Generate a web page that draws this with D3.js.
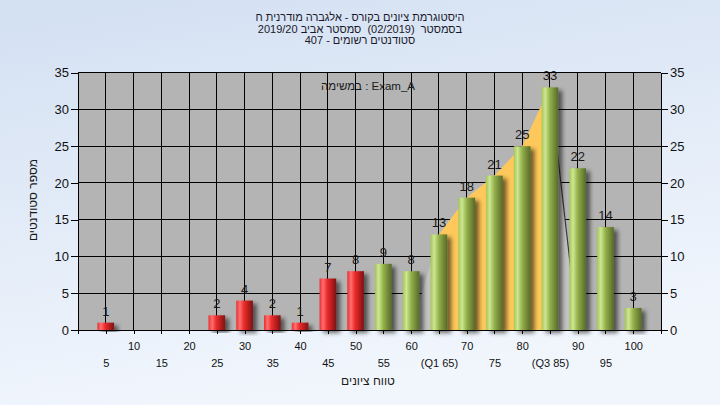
<!DOCTYPE html>
<html><head><meta charset="utf-8">
<script src="https://cdn.jsdelivr.net/npm/d3@7"></script>
<style>
body{margin:0;background:#fff;}
svg{display:block;}
text{font-family:"Liberation Sans","DejaVu Sans",Arial,sans-serif;}
</style>
</head><body>
<svg id="c" width="720" height="405"></svg>
<script>
// ---- data ----
const categories = [5,10,15,20,25,30,35,40,45,50,55,60,65,70,75,80,85,90,95,100];
const values     = [1,0,0,0,2,4,2,1,7,8,9,8,13,18,21,25,33,22,14,3];
const tickRow1   = [10,20,30,40,50,60,70,80,90,100];
const tickRow1Labels = ["10","20","30","40","50","60","70","80","90","100"];
const tickRow2   = [5,15,25,35,45,55,65,75,85,95];
const tickRow2Labels = ["5","15","25","35","45","55","(Q1 65)","75","(Q3 85)","95"];
const yTicks = [0,5,10,15,20,25,30,35];
const q1 = 65, q3 = 85, passMark = 55;
const titleLines = [
  "היסטוגרמת ציונים בקורס - אלגברה מודרנית ח",
  "בסמסטר  (02/2019)  סמסטר אביב 2019/20",
  "סטודנטים רשומים - 407"
];
const assignmentText = "במשימה : Exam_A";
const yTitle = "מספר סטודנטים";
const xTitle = "טווח ציונים";

// ---- layout ----
const svg = d3.select("#c");
const L = 78, R = 661, T = 72.7, B = 330;
const x = d3.scaleLinear().domain([0,105]).range([L,R]);
const y = d3.scaleLinear().domain([0,35]).range([B,T]);

const defs = svg.append("defs");
const bg = defs.append("linearGradient").attr("id","bg").attr("x1",0).attr("y1",0).attr("x2",0.3).attr("y2",1);
bg.append("stop").attr("offset","0%").attr("stop-color","#d3e0f2");
bg.append("stop").attr("offset","100%").attr("stop-color","#f1f6fd");
function barGrad(id, stops){
  const g = defs.append("linearGradient").attr("id",id).attr("x1",0).attr("y1",0).attr("x2",1).attr("y2",0);
  stops.forEach(s=>g.append("stop").attr("offset",s[0]).attr("stop-color",s[1]));
}
barGrad("red",[["0%","#e83030"],["22%","#ff7070"],["45%","#ee2c2c"],["100%","#7e1212"]]);
barGrad("green",[["0%","#a6c656"],["22%","#cde792"],["50%","#94b04a"],["100%","#566a2a"]]);
const f = defs.append("filter").attr("id","sh").attr("x","-30%").attr("y","-10%").attr("width","180%").attr("height","130%");
f.append("feDropShadow").attr("dx",4).attr("dy",3).attr("stdDeviation",2).attr("flood-color","#000").attr("flood-opacity",0.55);
defs.append("clipPath").attr("id","iqr").append("rect")
  .attr("x",x(q1)).attr("y",T).attr("width",x(q3)-x(q1)).attr("height",B-T);
defs.append("clipPath").attr("id","plot").append("rect")
  .attr("x",L).attr("y",T).attr("width",R-L).attr("height",B-T+8);

svg.append("rect").attr("width",720).attr("height",405).attr("fill","url(#bg)");
svg.append("rect").attr("x",L).attr("y",T).attr("width",R-L).attr("height",B-T).attr("fill","#b4b4b4");

// grid
const grid = svg.append("g").attr("stroke","#000").attr("stroke-width",1).attr("shape-rendering","crispEdges");
grid.selectAll(".v").data(categories).join("line")
  .attr("x1",d=>x(d)).attr("x2",d=>x(d)).attr("y1",T).attr("y2",B);
grid.selectAll(".h").data(yTicks.filter(d=>d>0)).join("line")
  .attr("x1",L).attr("x2",R).attr("y1",d=>y(d)).attr("y2",d=>y(d));

// area between quartiles
const areaIdx = categories.map((c,i)=>i).filter(i=>categories[i]>=q1 && categories[i]<=q3);
const areaPts = [[categories[areaIdx[0]-1],0]]
  .concat(areaIdx.map(i=>[categories[i],values[i]]))
  .concat([[categories[areaIdx[areaIdx.length-1]+1],0]]);
const areaGen = d3.area().x(d=>x(d[0])).y0(y(0)).y1(d=>y(d[1]));
svg.append("path").datum(areaPts).attr("d",areaGen).attr("fill","#c3c3c3");
svg.append("path").datum(areaPts).attr("d",areaGen).attr("fill","#fec85a").attr("clip-path","url(#iqr)");
svg.append("path").datum(areaPts.slice(-2)).attr("d",d3.line().x(d=>x(d[0])).y(d=>y(d[1])))
  .attr("fill","none").attr("stroke","#3a3a3a").attr("stroke-width",1.2);

// bars
const bw = x(3)-x(0);
const data = categories.map((c,i)=>({c, v:values[i]}));
svg.append("g").attr("clip-path","url(#plot)").selectAll("rect").data(data.filter(d=>d.v>0)).join("rect")
  .attr("x",d=>x(d.c)-bw/2).attr("width",bw)
  .attr("y",d=>y(d.v)).attr("height",d=>y(0)-y(d.v))
  .attr("fill",d=>d.c<passMark?"url(#red)":"url(#green)")
  .attr("filter","url(#sh)");

// value labels
svg.append("g").selectAll("text").data(data.filter(d=>d.v>0)).join("text")
  .attr("x",d=>x(d.c)).attr("y",d=>y(d.v)-7)
  .attr("text-anchor","middle").attr("font-size",13).attr("fill","#1a1a1a")
  .text(d=>d.v);

// axes
const yl = svg.append("g").attr("transform",`translate(${L},0)`)
  .call(d3.axisLeft(y).tickValues(yTicks).tickSize(7).tickPadding(2));
const yr = svg.append("g").attr("transform",`translate(${R},0)`)
  .call(d3.axisRight(y).tickValues(yTicks).tickSize(7).tickPadding(2));
const xa = svg.append("g").attr("transform",`translate(0,${B})`)
  .call(d3.axisBottom(x).tickValues(d3.range(0,106,5)).tickSize(4).tickFormat(""));
const x1 = svg.append("g").attr("transform",`translate(0,${B})`)
  .call(d3.axisBottom(x).tickValues(tickRow1).tickSize(0).tickPadding(12)
        .tickFormat((d,i)=>tickRow1Labels[i]));
const x2 = svg.append("g").attr("transform",`translate(0,${B})`)
  .call(d3.axisBottom(x).tickValues(tickRow2).tickSize(0).tickPadding(29)
        .tickFormat((d,i)=>tickRow2Labels[i]));
[yl,yr,xa,x1,x2].forEach(g=>{
  g.selectAll(".domain").attr("stroke","#000").attr("shape-rendering","crispEdges");
  g.selectAll(".tick line").attr("stroke","#000").attr("shape-rendering","crispEdges");
  g.selectAll("text").attr("fill","#111").attr("font-family",null);
});
[x1,x2].forEach(g=>g.select(".domain").remove());
yl.selectAll("text").attr("font-size",13);
yr.selectAll("text").attr("font-size",13);
x1.selectAll("text").attr("font-size",11);
x2.selectAll("text").attr("font-size",11);
svg.append("line").attr("x1",L).attr("x2",R).attr("y1",T).attr("y2",T).attr("stroke","#000").attr("shape-rendering","crispEdges");

// titles
svg.append("g").selectAll("text").data(titleLines).join("text")
  .attr("x",360).attr("y",(d,i)=>21+i*11.7)
  .attr("text-anchor","middle").attr("direction","rtl").style("white-space","pre")
  .attr("font-size",11).attr("fill","#1a1a2a")
  .text(d=>d);
svg.append("text").attr("x",368).attr("y",90).attr("text-anchor","middle").attr("direction","ltr")
  .attr("font-size",11.5).attr("fill","#1a1a1a").text(assignmentText);
svg.append("text").attr("transform","translate(37,200) rotate(-90)").attr("text-anchor","middle")
  .attr("font-size",12).attr("fill","#1a1a1a").text(yTitle);
svg.append("text").attr("x",368).attr("y",385).attr("text-anchor","middle")
  .attr("font-size",12).attr("fill","#1a1a1a").text(xTitle);
</script>
</body></html>
